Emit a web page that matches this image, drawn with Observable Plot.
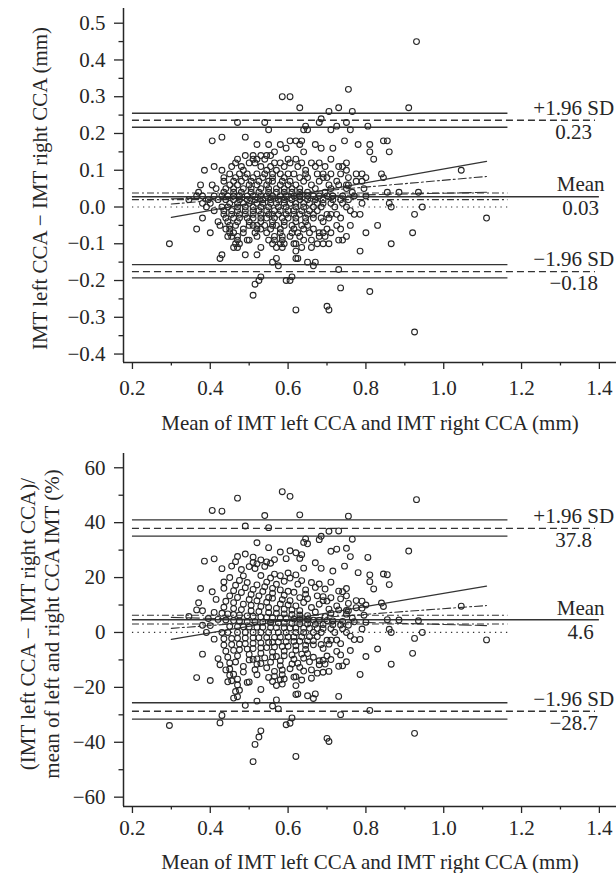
<!DOCTYPE html>
<html><head><meta charset="utf-8">
<script src="https://cdn.jsdelivr.net/npm/d3@7"></script>
<script src="https://cdn.jsdelivr.net/npm/@observablehq/plot@0.6"></script>
<style>
html,body{margin:0;padding:0;background:#fff;}
#chart{width:616px;}
#chart svg{display:block;}
</style></head><body><div id="chart"></div>
<script>
// [mean of left & right CCA IMT (mm), left − right difference (mm)]
const imtPoints = [
[0.93,0.45],[0.755,0.32],[0.585,0.30],[0.605,0.30],[0.63,0.27],[0.705,0.26],[0.73,0.27],[0.765,0.26],[0.91,0.27],
[0.47,0.23],[0.54,0.23],[0.55,0.21],[0.685,0.24],[0.68,0.23],[0.75,0.23],[0.805,0.22],[0.645,0.22],[0.65,0.21],[0.64,0.21],[0.71,0.21],[0.725,0.22],[0.76,0.21],
[0.405,0.18],[0.43,0.19],[0.49,0.19],[0.52,0.17],[0.55,0.17],[0.58,0.17],[0.595,0.16],[0.605,0.18],[0.62,0.18],[0.635,0.18],[0.63,0.17],[0.64,0.15],[0.67,0.17],[0.685,0.16],[0.715,0.16],[0.745,0.18],[0.78,0.17],[0.81,0.17],[0.81,0.15],[0.82,0.13],[0.845,0.18],[0.855,0.18],[0.86,0.15],[0.565,0.15],[0.555,0.14],
[1.045,0.10],[1.11,-0.03],[0.92,-0.07],[0.925,-0.02],[0.945,0.00],[0.935,0.04],[0.885,0.04],[0.855,0.04],[0.865,-0.10],[0.86,0.01],[0.865,0.00],[0.83,-0.05],[0.80,-0.07],[0.785,-0.12],[0.81,-0.23],[0.735,-0.22],[0.73,-0.17],[0.84,0.09],[0.845,0.08],[0.79,0.07],[0.79,0.09],
[0.70,-0.27],[0.705,-0.28],[0.62,-0.28],[0.925,-0.34],
[0.785,-0.02],[0.76,-0.05],[0.735,-0.06],[0.74,-0.09],[0.71,-0.07],[0.705,-0.10],[0.695,-0.08],[0.68,-0.07],[0.665,-0.06],[0.65,-0.05],[0.64,-0.09],[0.66,-0.11],[0.675,-0.10],[0.625,-0.14],[0.65,-0.15],[0.67,-0.15],[0.665,-0.16],
[0.68,0.12],[0.695,0.11],[0.73,0.11],[0.74,0.11],[0.75,0.12],[0.75,0.10],[0.735,0.09],[0.775,0.09],[0.675,0.09],[0.70,0.08],[0.65,0.08],[0.75,0.06],[0.755,0.06],[0.77,0.03],[0.74,0.01],[0.75,0.00],[0.76,-0.01],[0.72,0.00],[0.725,-0.02],[0.71,-0.02],[0.705,-0.03],
[0.295,-0.10],[0.375,0.06],[0.345,0.02],[0.38,0.03],[0.38,0.01],[0.38,-0.03],[0.365,-0.06],[0.40,-0.07],[0.42,-0.04],[0.425,-0.05],[0.43,-0.13],[0.425,-0.14],[0.45,-0.06],[0.45,-0.07],[0.455,-0.08],[0.465,-0.10],[0.475,-0.10],[0.47,-0.09],[0.49,-0.13],[0.50,-0.09],[0.52,-0.13],[0.53,-0.11],[0.51,-0.24],[0.515,-0.21],[0.525,-0.20],[0.53,-0.19],[0.575,-0.16],[0.57,-0.14],[0.56,-0.15],[0.595,-0.20],[0.605,-0.20],[0.61,-0.19],[0.62,-0.14],[0.55,-0.09],[0.565,-0.09],[0.62,-0.10],[0.53,-0.06],[0.54,-0.05],[0.555,-0.06],[0.57,-0.05],[0.385,0.10],[0.41,0.11],[0.57,-0.11],[0.58,-0.10],[0.59,-0.10],[0.585,-0.09],[0.49,0.14],[0.51,0.14],[0.545,0.14],
[0.43,0.10],[0.455,0.11],[0.465,0.12],[0.47,0.13],[0.48,0.11],[0.485,0.10],[0.50,0.12],[0.51,0.13],[0.515,0.12],[0.52,0.13],[0.53,0.14],[0.53,0.11],[0.54,0.13],[0.545,0.10],[0.555,0.11],[0.565,0.12],[0.57,0.10],[0.58,0.12],[0.59,0.11],[0.60,0.13],[0.605,0.12],[0.62,0.13],[0.625,0.11],[0.635,0.12],[0.645,0.10],[0.66,0.12],[0.67,0.11],[0.71,0.13],
[0.45,0.09],[0.475,0.09],[0.495,0.09],[0.52,0.09],[0.54,0.09],[0.56,0.09],[0.58,0.09],[0.60,0.09],[0.615,0.09],[0.645,0.09],[0.69,0.09],[0.71,0.09],
[0.435,0.08],[0.465,0.08],[0.49,0.08],[0.51,0.08],[0.535,0.08],[0.56,0.08],[0.59,0.08],[0.63,0.08],[0.69,0.08],[0.755,0.08],[0.80,0.08],
[0.435,0.07],[0.46,0.07],[0.48,0.07],[0.505,0.07],[0.525,0.07],[0.55,0.07],[0.56,0.07],[0.585,0.07],[0.605,0.07],[0.64,0.07],[0.68,0.07],[0.725,0.07],[0.775,0.07],
[0.405,0.06],[0.45,0.06],[0.47,0.06],[0.50,0.06],[0.52,0.06],[0.545,0.06],[0.58,0.06],[0.60,0.06],[0.62,0.06],[0.66,0.06],[0.705,0.06],[0.73,0.06],
[0.415,0.05],[0.44,0.05],[0.46,0.05],[0.485,0.05],[0.505,0.05],[0.53,0.05],[0.55,0.05],[0.57,0.05],[0.59,0.05],[0.61,0.05],[0.63,0.05],[0.67,0.05],[0.71,0.05],[0.75,0.05],[0.795,0.05],
[0.37,0.04],[0.435,0.04],[0.46,0.04],[0.48,0.04],[0.505,0.04],[0.525,0.04],[0.55,0.04],[0.57,0.04],[0.59,0.04],[0.61,0.04],[0.63,0.04],[0.65,0.04],[0.695,0.04],[0.765,0.04],
[0.365,0.03],[0.41,0.03],[0.43,0.03],[0.445,0.03],[0.46,0.03],[0.475,0.03],[0.495,0.03],[0.51,0.03],[0.53,0.03],[0.545,0.03],[0.56,0.03],[0.58,0.03],[0.595,0.03],[0.615,0.03],[0.63,0.03],[0.65,0.03],[0.665,0.03],[0.68,0.03],[0.70,0.03],[0.715,0.03],[0.74,0.03],[0.80,0.03],
[0.395,0.02],[0.42,0.02],[0.44,0.02],[0.46,0.02],[0.475,0.02],[0.495,0.02],[0.515,0.02],[0.535,0.02],[0.555,0.02],[0.575,0.02],[0.59,0.02],[0.61,0.02],[0.63,0.02],[0.65,0.02],[0.67,0.02],[0.69,0.02],[0.715,0.02],[0.735,0.02],[0.755,0.02],
[0.40,0.01],[0.45,0.01],[0.47,0.01],[0.485,0.01],[0.50,0.01],[0.52,0.01],[0.535,0.01],[0.555,0.01],[0.57,0.01],[0.59,0.01],[0.605,0.01],[0.62,0.01],[0.64,0.01],[0.655,0.01],[0.675,0.01],[0.69,0.01],[0.71,0.01],[0.79,0.01],
[0.39,0.00],[0.43,0.00],[0.445,0.00],[0.47,0.00],[0.49,0.00],[0.51,0.00],[0.53,0.00],[0.55,0.00],[0.575,0.00],[0.595,0.00],[0.62,0.00],[0.64,0.00],[0.665,0.00],[0.685,0.00],
[0.41,-0.01],[0.435,-0.01],[0.455,-0.01],[0.47,-0.01],[0.49,-0.01],[0.51,-0.01],[0.525,-0.01],[0.545,-0.01],[0.565,-0.01],[0.58,-0.01],[0.60,-0.01],[0.615,-0.01],[0.635,-0.01],[0.655,-0.01],[0.675,-0.01],
[0.435,-0.02],[0.455,-0.02],[0.475,-0.02],[0.49,-0.02],[0.51,-0.02],[0.53,-0.02],[0.55,-0.02],[0.56,-0.02],[0.575,-0.02],[0.595,-0.02],[0.615,-0.02],[0.63,-0.02],[0.65,-0.02],[0.665,-0.02],[0.70,-0.02],[0.77,-0.02],
[0.44,-0.03],[0.46,-0.03],[0.475,-0.03],[0.495,-0.03],[0.51,-0.03],[0.53,-0.03],[0.545,-0.03],[0.565,-0.03],[0.585,-0.03],[0.60,-0.03],[0.62,-0.03],[0.645,-0.03],[0.665,-0.03],[0.685,-0.03],[0.735,-0.03],
[0.445,-0.04],[0.47,-0.04],[0.50,-0.04],[0.53,-0.04],[0.56,-0.04],[0.59,-0.04],[0.62,-0.04],[0.645,-0.04],[0.69,-0.04],
[0.45,-0.05],[0.465,-0.05],[0.50,-0.05],[0.51,-0.05],[0.52,-0.05],[0.56,-0.05],[0.59,-0.05],[0.61,-0.05],[0.635,-0.05],[0.725,-0.05],
[0.44,-0.06],[0.485,-0.06],[0.52,-0.06],[0.58,-0.06],[0.615,-0.06],[0.64,-0.06],[0.70,-0.06],
[0.46,-0.07],[0.485,-0.07],[0.515,-0.07],[0.545,-0.07],[0.58,-0.07],[0.61,-0.07],[0.625,-0.07],[0.655,-0.07],[0.69,-0.07],
[0.445,-0.08],[0.47,-0.08],[0.52,-0.08],[0.565,-0.08],[0.585,-0.08],[0.605,-0.08],[0.63,-0.08],[0.68,-0.08],[0.75,-0.08],
[0.495,-0.09],[0.66,-0.09],[0.73,-0.09],
[0.56,-0.10],[0.615,-0.10],[0.69,-0.10],
[0.46,-0.11],[0.47,-0.11],[0.585,-0.11],[0.635,-0.11],
[0.62,-0.12]
];
const meanIMT = imtPoints.map(p => p[0]);
const diffIMT = imtPoints.map(p => p[1]);
// lower panel: difference as % of the mean of both sides (same subjects)
const pctDiff = imtPoints.map(p => p[1] / p[0] * 100);

const xTicks = [0.2, 0.4, 0.6, 0.8, 1.0, 1.2, 1.4];
const xMinorTicks = [0.3, 0.5, 0.7, 0.9, 1.1, 1.3];
const topYTicks = [-0.4, -0.3, -0.2, -0.1, 0, 0.1, 0.2, 0.3, 0.4, 0.5];
const topYMinor = [-0.35, -0.25, -0.15, -0.05, 0.05, 0.15, 0.25, 0.35, 0.45];
const botYTicks = [-60, -40, -20, 0, 20, 40, 60];
const botYMinor = [-50, -30, -10, 10, 30, 50];

const topStats = {mean: 0.028, meanCI: [0.020, 0.038], upper: 0.236, upperCI: [0.217, 0.255], lower: -0.176, lowerCI: [-0.193, -0.157]};
const botStats = {mean: 4.6, meanCI: [3.1, 6.3], upper: 37.9, upperCI: [35.1, 41.0], lower: -28.7, lowerCI: [-31.6, -25.6]};

const regX = [0.30, 1.11];
const topRegSolid = [-0.028, 0.124], topRegDashDot = [0.008, 0.083], topRegLongDash = [0.022, 0.040];
const botRegSolid = [-2.5, 16.9], botRegDashDot = [1.5, 9.8], botRegLongDash = [5.5, 2.5];

const topLabels = ["+1.96 SD", "0.23", "Mean", "0.03", "\u22121.96 SD", "\u22120.18"];
const botLabels = ["+1.96 SD", "37.8", "Mean", "4.6", "\u22121.96 SD", "\u221228.7"];

const xTitle = "Mean of IMT left CCA and IMT right CCA (mm)";
const topYTitle = "IMT left CCA \u2212 IMT right CCA (mm)";
const botYTitle = "(IMT left CCA \u2212 IMT right CCA)/\nmean of left and right CCA IMT (%)";

const FONT = "'Liberation Serif','Times New Roman',Times,serif";
const INK = "#262626";
const LINE = "#333";
const X_DOMAIN = [0.177, 1.444];

function panel(c) {
  const reg = vals => regX.map((x, i) => ({x, y: vals[i]}));
  const s = c.stats;
  const above = [{x: 1.334, y: s.upper, t: c.labels[0]}, {x: 1.352, y: s.mean, t: c.labels[2]}, {x: 1.334, y: s.lower, t: c.labels[4]}];
  const below = [{x: 1.334, y: s.upper, t: c.labels[1]}, {x: 1.352, y: s.mean, t: c.labels[3]}, {x: 1.334, y: s.lower, t: c.labels[5]}];
  return Plot.plot({
    width: 616, height: c.height,
    marginLeft: 123, marginRight: 0, marginTop: c.top, marginBottom: c.height - c.bottom,
    style: {fontFamily: FONT, fontSize: "21px", color: INK, background: "#fff", overflow: "visible"},
    x: {domain: X_DOMAIN},
    y: {domain: c.yDomain},
    marks: [
      Plot.ruleY([...s.upperCI, ...s.lowerCI], {x1: 0.2, x2: 1.165, stroke: LINE, strokeWidth: 1.3}),
      Plot.ruleY([s.upper, s.lower], {x1: 0.2, x2: 1.39, stroke: LINE, strokeWidth: 1.3, strokeDasharray: "7,4"}),
      Plot.ruleY(s.meanCI, {x1: 0.2, x2: 1.165, stroke: LINE, strokeWidth: 1.1, strokeDasharray: "7,3,2,3"}),
      Plot.ruleY([0], {x1: 0.2, x2: 1.165, stroke: LINE, strokeWidth: 1.2, strokeDasharray: "1.3,4.2"}),
      Plot.ruleY([s.mean], {x1: 0.2, x2: 1.40, stroke: LINE, strokeWidth: 1.5}),
      Plot.line(reg(c.reg[0]), {x: "x", y: "y", stroke: LINE, strokeWidth: 1.2}),
      Plot.line(reg(c.reg[1]), {x: "x", y: "y", stroke: LINE, strokeWidth: 1.1, strokeDasharray: "8,3,2,3"}),
      Plot.line(reg(c.reg[2]), {x: "x", y: "y", stroke: LINE, strokeWidth: 1.1, strokeDasharray: "12,4"}),
      Plot.dot(d3.range(meanIMT.length), {x: i => meanIMT[i], y: i => c.ys[i], r: 2.9, stroke: INK, strokeWidth: 1.1, fill: "none"}),
      Plot.ruleX([X_DOMAIN[0]], {stroke: INK, strokeWidth: 1.5}),
      Plot.ruleY([c.yDomain[0]], {stroke: INK, strokeWidth: 1.5}),
      Plot.axisX({ticks: xTicks, tickSize: 7, tickPadding: c.xPad, tickFormat: d => d.toFixed(1), label: null, fontSize: 21, strokeWidth: 1.3}),
      Plot.axisX({ticks: xMinorTicks, tickSize: 3.5, tickFormat: () => "", label: null, strokeWidth: 1.3}),
      Plot.axisY({ticks: c.yTicks, tickSize: 9, tickPadding: 9, tickFormat: c.yFormat, label: null, fontSize: 21, strokeWidth: 1.3}),
      Plot.axisY({ticks: c.yMinor, tickSize: 4.5, tickFormat: () => "", label: null, strokeWidth: 1.3}),
      Plot.text(above, {x: "x", y: "y", text: "t", dy: -12, lineAnchor: "middle", textAnchor: "middle", fontSize: 21, fill: INK}),
      Plot.text(below, {x: "x", y: "y", text: "t", dy: 12, lineAnchor: "middle", textAnchor: "middle", fontSize: 21, fill: INK}),
      Plot.text([xTitle], {text: d => d, frameAnchor: "bottom", dy: c.titleDy, lineAnchor: "middle", textAnchor: "middle", fontSize: 21, fill: INK}),
      Plot.text([c.yTitle], {text: d => d, frameAnchor: "left", rotate: -90, dx: c.yTitleDx, dy: c.yTitleDy, lineAnchor: "middle", textAnchor: "middle", lineHeight: 1.14, fontSize: 21, fill: INK})
    ]
  });
}

const chart = document.getElementById("chart");
chart.appendChild(panel({
  height: 440, top: 8, bottom: 362, yDomain: [-0.423, 0.54],
  yTicks: topYTicks, yMinor: topYMinor, yFormat: d3.format(".1f"),
  ys: diffIMT, stats: topStats, reg: [topRegSolid, topRegDashDot, topRegLongDash],
  labels: topLabels, yTitle: topYTitle, yTitleDx: -84, yTitleDy: 3, xPad: 11, titleDy: 61
}));
chart.appendChild(panel({
  height: 433, top: 13, bottom: 366, yDomain: [-63.4, 65.2],
  yTicks: botYTicks, yMinor: botYMinor, yFormat: d3.format("d"),
  ys: pctDiff, stats: botStats, reg: [botRegSolid, botRegDashDot, botRegLongDash],
  labels: botLabels, yTitle: botYTitle, yTitleDx: -84, yTitleDy: -6, xPad: 7, titleDy: 56
}));
</script>
</body></html>
